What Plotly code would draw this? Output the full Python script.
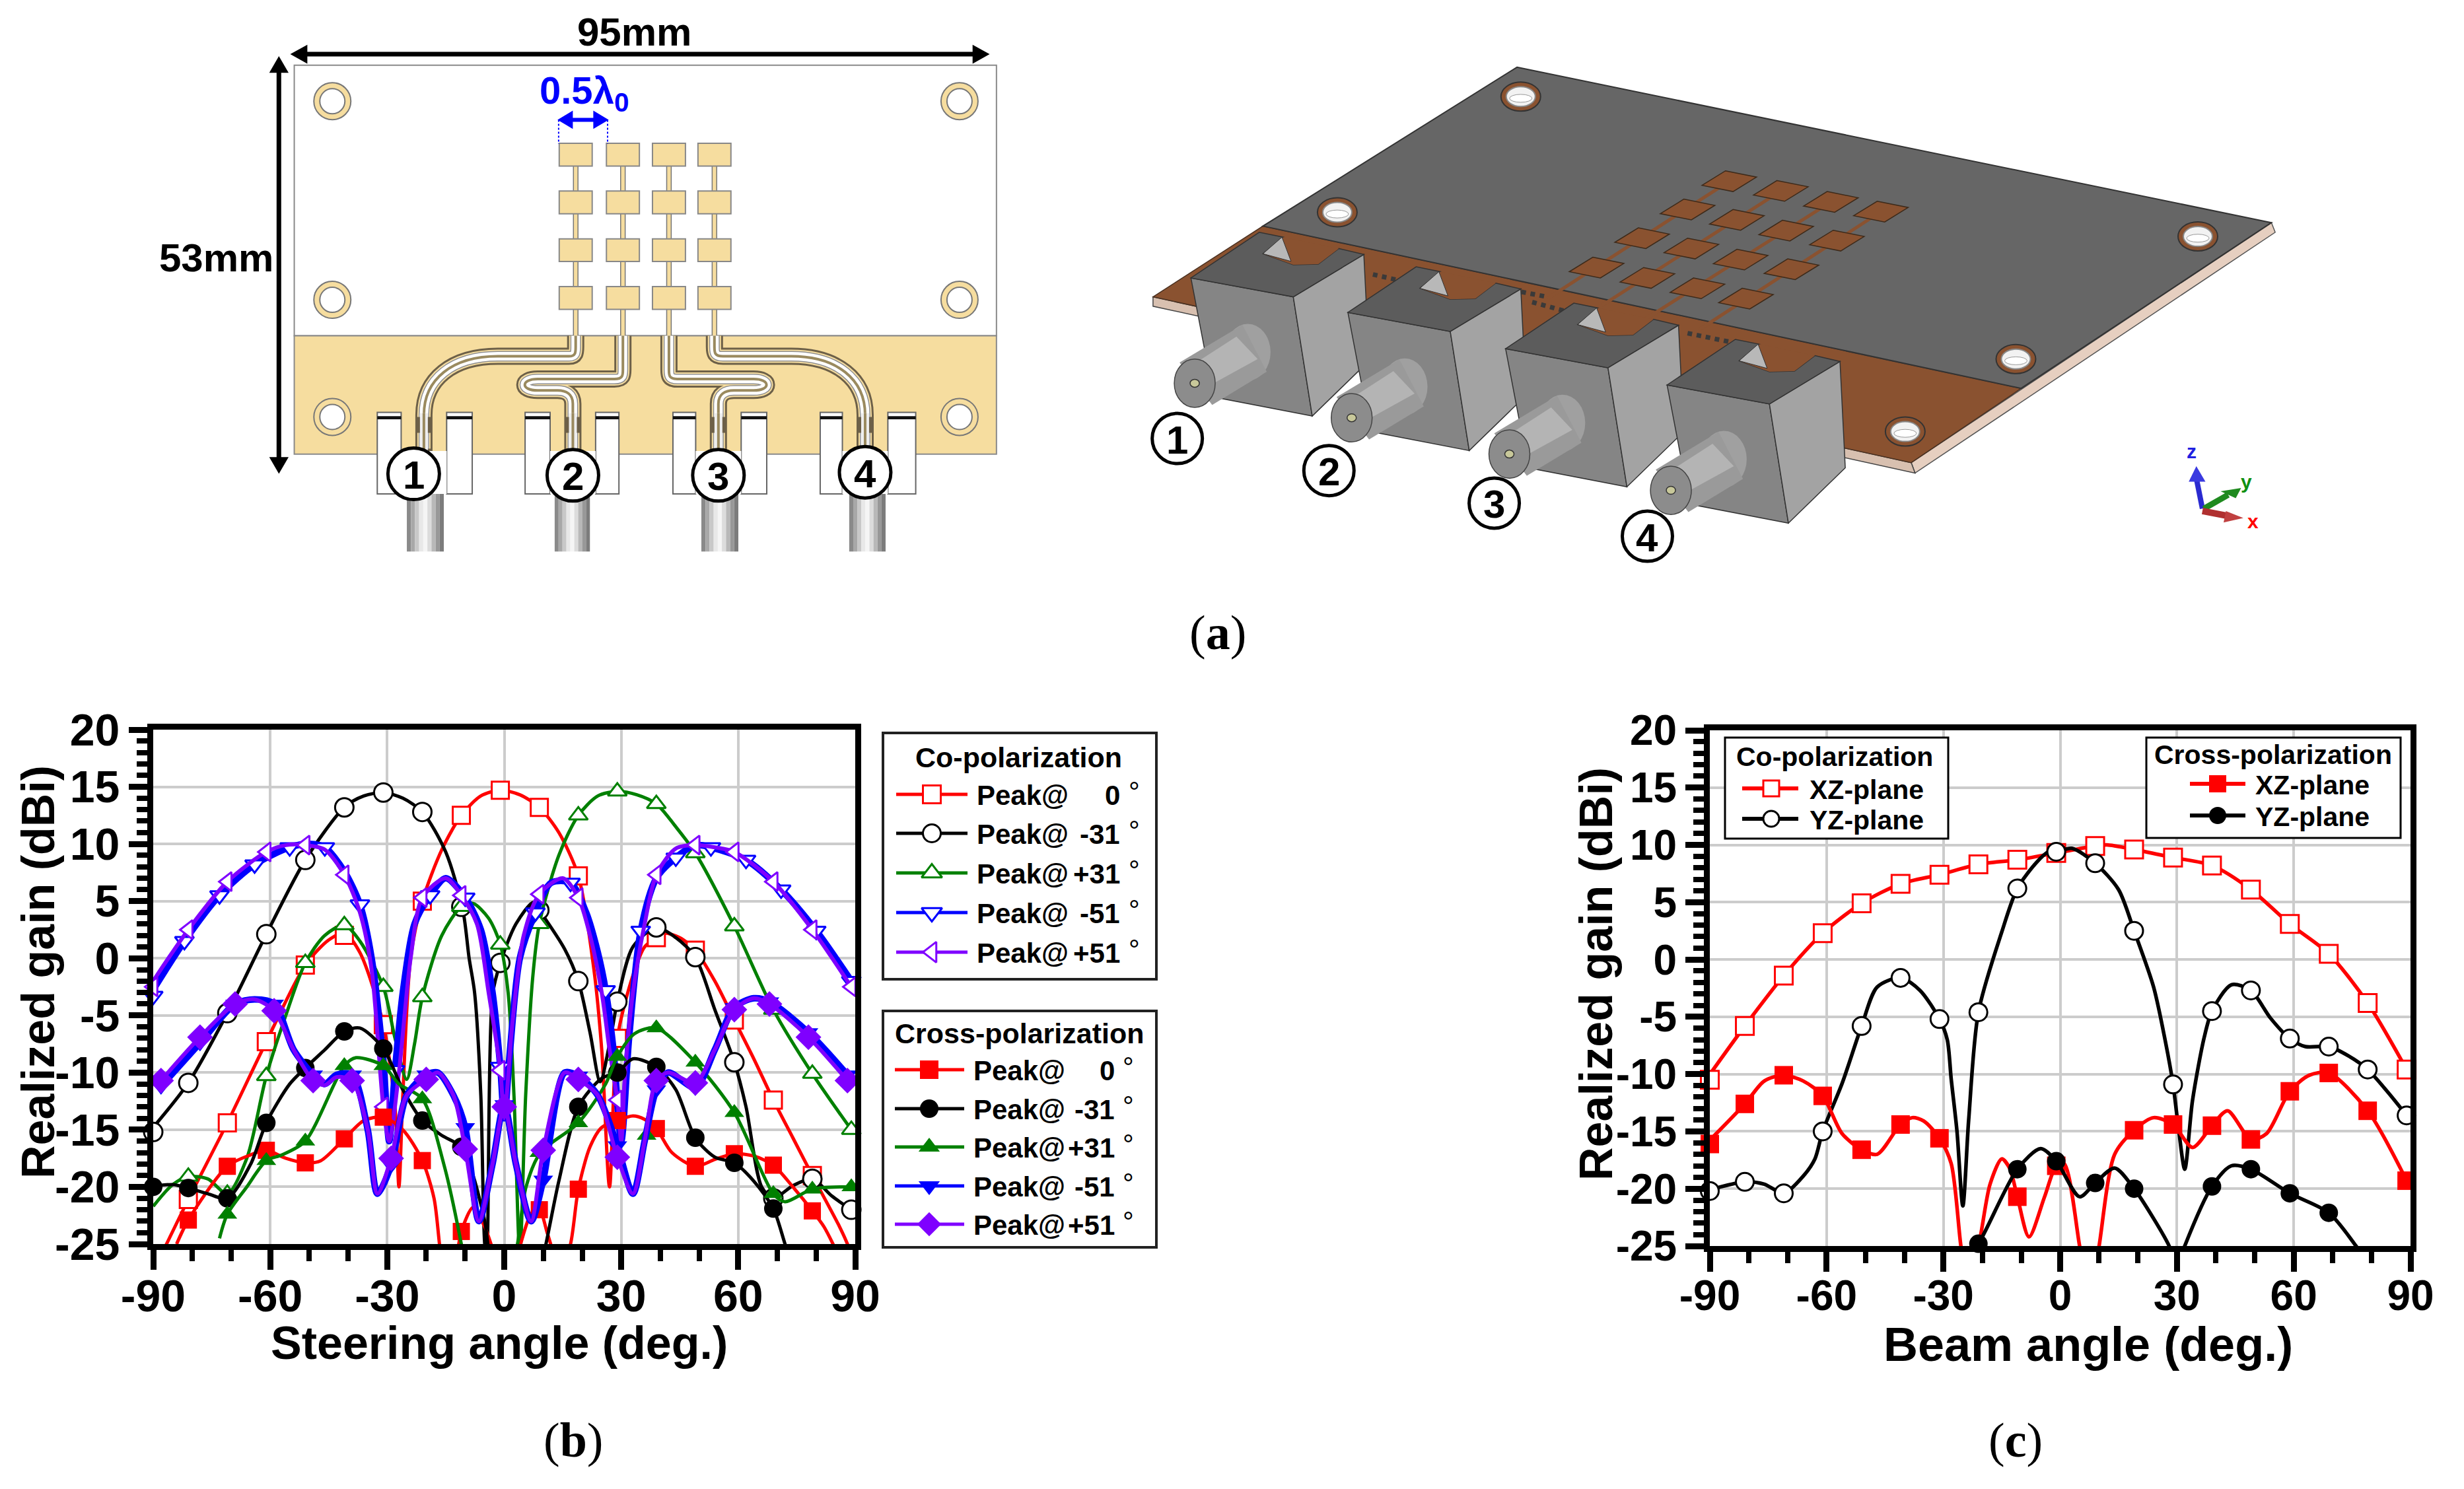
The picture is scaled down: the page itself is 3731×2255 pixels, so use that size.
import plotly.graph_objects as go

W, H = 3731, 2255

# ---------- shared marker angles ----------
ang10 = [-90, -81, -71, -61, -51, -41, -31, -21, -11, -1, 9, 19, 29, 39, 49, 59, 69, 79, 89]
ang9 = [-90, -82, -73, -64, -55, -46, -37, -28, -19, -10, -1, 8, 17, 26, 35, 44, 53, 62, 71, 80, 89]
ang98 = [-88, -78, -69, -59, -49, -39, -29, -20, -10, 0, 10, 19, 29, 39, 49, 59, 68, 78, 88]

# ---------- tick labels ----------
x_tick_vals = [-90, -60, -30, 0, 30, 60, 90]
x_tick_text = ["-90", "-60", "-30", "0", "30", "60", "90"]
y_tick_vals = [-25, -20, -15, -10, -5, 0, 5, 10, 15, 20]
y_tick_text = ["-25", "-20", "-15", "-10", "-5", "0", "5", "10", "15", "20"]

# ---------- panel (b): marker values ----------
b_co0_m = [None, -21.1, -14.4, -7.3, -0.6, 2.0, -5.8, 5.0, 12.5, 14.7, 13.2, 7.2, -7.0, 1.8, 0.7, -5.4, -12.4, -19.0, None]
b_co31n_m = [-15.2, -10.9, -4.8, 2.1, 8.6, 13.2, 14.5, 12.8, 4.5, -0.4, 4.2, -2.0, -3.8, 2.7, 0.1, -9.1, -21.0, -19.3, -22.0]
b_co31p_m = [None, -19.1, -20.6, -10.3, -0.4, 2.9, -2.5, -3.4, 4.5, 1.2, 3.0, 12.5, 14.6, 13.5, 9.2, 2.8, -4.5, -10.1, -15.0]
b_co51n_m = [-3.3, 1.5, 5.5, 8.2, 9.7, 9.7, 4.7, -9.8, 5.5, 5.3, -9.5, 4.0, 6.6, -2.8, 2.4, 8.8, 9.7, 8.6, 6.0, 2.4, -2.0]
b_co51p_m = [-2.5, 2.5, 6.7, 9.3, 9.9, 7.3, -13.0, 5.3, 5.5, -9.8, 5.6, 5.3, -12.4, 7.3, 9.9, 9.3, 6.7, 2.5, -2.5]
b_x0_m = [None, -22.9, -18.2, -16.8, -17.9, -15.8, -13.9, -17.7, -23.9, None, -22.0, -20.2, -14.2, -14.9, -18.2, -17.1, -18.1, -22.1, None]
b_x31n_m = [-20.0, -20.1, -21.0, -14.4, -9.6, -6.4, -7.9, -14.2, -16.5, None, None, -13.0, -10.0, -9.5, -15.7, -17.9, -21.9, None, None]
b_x31p_ang = [-71, -61, -51, -41, -31, -21, 9, 19, 29, 36.5, 39, 49, 59, 69, 79, 89]
b_x31p_m = [-22.4, -17.7, -16.0, -9.4, -9.4, -12.3, -17.0, -14.4, -8.6, -15.5, -6.1, -9.1, -13.5, -20.6, -20.2, -20.0]
b_x51n_m = [-11.2, -7.4, -4.0, -4.0, -10.2, -10.2, -18.1, -10.2, -14.8, -12.8, -19.4, -10.3, -16.4, -11.5, -11.3, -4.3, -3.8, -6.5, -10.2]
b_x51p_m = [-10.7, -6.9, -4.0, -4.6, -10.7, -10.7, -17.5, -10.6, -16.7, -13.0, -16.8, -10.6, -17.4, -10.7, -10.9, -4.5, -4.0, -6.9, -10.7]

# ---------- panel (b): curve samples ----------
b_co0_cx = [-88, -81, -71, -61, -51, -45, -41, -37, -31, -28, -27, -26, -24, -21, -16, -11, -6, -1, 4, 9, 14, 19, 23, 25, 27, 29, 33, 36, 39, 41, 45, 49, 54, 59, 64, 69, 74, 79, 86, 88, 90]
b_co0_cy = [-26, -21.1, -14.4, -7.3, -0.6, 1.6, 2.2, 0.5, -5.8, -13, -20, -12, 0, 5, 9.5, 12.5, 14.2, 14.7, 14.3, 13.2, 11, 7.2, -1, -8, -20, -7, -1.5, 1, 1.8, 2.2, 1.8, 0.7, -2, -5.4, -8.8, -12.4, -15.7, -19, -23.5, -25, -27]
b_co31n_cx = [-91, -81, -71, -61, -51, -41, -36, -31, -26, -21, -15, -10.6, -9, -7.6, -6, -5, -4.5, -3, -1, 3, 7.5, 9, 15.5, 19, 22, 24.6, 27, 29, 33, 39, 44, 49, 54, 59, 62, 66, 69, 74, 79, 84, 89]
b_co31n_cy = [-15.2, -10.9, -4.8, 2.1, 8.6, 13.2, 14.2, 14.5, 14, 12.8, 9.3, 4.2, 0, -3, -12, -25, -26, -3.2, -0.4, 3, 4.9, 4.2, 0.8, -2, -6.5, -10.8, -7.5, -3.8, 1, 2.7, 1.8, 0.1, -4.5, -9.1, -13, -20, -21, -19.9, -19.3, -20.8, -22]
b_co31p_cx = [-90, -85, -81, -76, -71, -66, -61, -56, -51, -46, -41, -37, -31, -28, -25, -23, -21, -16, -11, -8, -4, -1, 1, 2.5, 4, 5.5, 7.3, 9, 14, 19, 24, 29, 34, 39, 44, 49, 59, 69, 79, 89]
b_co31p_cy = [-21.7, -19.8, -19.1, -19.3, -20.6, -17.5, -10.3, -5, -0.4, 2, 2.9, 1.5, -2.5, -7, -10.6, -7.5, -3.4, 2, 4.5, 4.8, 3.5, 1.2, -3, -12, -26, -12, -1.7, 3, 9, 12.5, 14.2, 14.6, 14.3, 13.5, 11.5, 9.2, 2.8, -4.5, -10.1, -15]
b_co51n_cx = [-91, -82, -73, -64, -55, -50, -46, -41, -37, -34, -31, -29.5, -28, -26, -23, -19, -15, -10, -6, -3, -1, 0, 1.5, 4, 8, 12, 17, 21, 24, 26, 28, 30, 32, 35, 39, 44, 49, 53, 62, 71, 80, 89]
b_co51n_cy = [-3.3, 1.5, 5.5, 8.2, 9.7, 10, 9.7, 7.6, 4.7, 0, -9, -16, -9.8, -3, 3, 5.5, 7, 5.3, 2.5, -3, -9.5, -14, -8, 0, 4, 6.6, 6.6, 4, 0.5, -2.8, -8, -16, -7, 2.4, 7, 8.8, 9.9, 9.7, 8.6, 6, 2.4, -2]
b_co51p_cx = [-91, -81, -71, -61, -56, -51, -46, -41, -37, -34, -31, -29.5, -27, -24, -21, -15, -11, -7, -4, -1, 0, 2, 5, 9, 15, 19, 22, 25, 27, 29, 30, 31, 33, 36, 39, 44, 49, 54, 59, 69, 79, 89]
b_co51p_cy = [-2.5, 2.5, 6.7, 9.3, 9.9, 9.9, 9.5, 7.3, 4, -1, -13, -16, -10, 0, 5.3, 7, 5.5, 3, -3, -9.8, -14, -6, 2, 5.6, 7, 5.3, 2, -3, -8, -12.4, -16, -10, -3, 3, 7.3, 9.6, 9.9, 9.7, 9.3, 6.7, 2.5, -2.5]
b_x0_cx = [-84, -81, -71, -65, -61, -56, -51, -47, -41, -36, -31, -26, -21, -18, -16.6, -15.5, -13.5, -11, -8, -5, -3.4, -1, 2, 4.2, 7, 9, 11, 11.9, 14, 17, 19, 22, 25, 29, 33, 36, 39, 43, 49, 54, 59, 64, 69, 74, 79, 82, 84.3, 87]
b_x0_cy = [-25, -22.9, -18.2, -17.2, -16.8, -17.5, -17.9, -17.7, -15.8, -14.2, -13.9, -15, -17.7, -21, -25, -28, -28, -23.9, -21.8, -23.5, -25, -28, -28, -25, -22.3, -22, -24, -25, -28, -25, -20.2, -16.5, -14.8, -14.2, -13.8, -14.1, -14.9, -17, -18.2, -17.6, -17.1, -17.3, -18.1, -20, -22.1, -23.5, -25, -27]
b_x31n_cx = [-91, -85, -81, -76, -71, -65, -61, -55, -51, -46, -41, -37, -31, -26, -21, -16, -11, -8, -5, -4.2, -3, 8, 10.7, 14, 19, 25, 29, 33, 39, 44, 49, 54, 59, 64, 69, 72, 74]
b_x31n_cy = [-20, -19.8, -20.1, -20.6, -21, -18, -14.4, -11, -9.6, -8, -6.4, -6.1, -7.9, -11.5, -14.2, -15.5, -16.5, -19, -23, -25, -29, -29, -25, -19.5, -13, -10.5, -10, -8.8, -9.5, -11.5, -15.7, -17.4, -17.9, -19.5, -21.9, -25, -27]
b_x31p_cx = [-73, -71, -66, -61, -57, -51, -41, -38, -31, -27, -21, -15.5, -11, -9, 1, 3.4, 5.6, 9.3, 19, 26, 29, 33.4, 39, 49, 59, 69, 72, 79, 89]
b_x31p_cy = [-24.5, -22.4, -20, -17.7, -17.2, -16, -9.4, -8.7, -9.4, -11, -12.3, -18, -25, -29, -29, -25, -20, -17, -14.4, -11, -8.6, -6.6, -6.1, -9.1, -13.5, -20.6, -21.3, -20.2, -20]
b_x51n_cx = [-88, -78, -69, -64, -59, -54, -49, -46, -43, -39, -35, -32.5, -29, -25, -20, -17, -13, -10, -6.5, -3, 0, 3, 6.9, 10, 15.5, 19, 24, 29, 33, 36, 39, 42, 49, 54, 59, 64, 68, 78, 88]
b_x51n_cy = [-11.2, -7.4, -4, -3.6, -4, -8, -10.2, -11, -10.2, -10.2, -15, -20.6, -18.1, -12, -10.2, -10, -12, -14.8, -23, -18, -12.8, -18, -23, -19.4, -10, -10.3, -12, -16.4, -20.6, -16, -11.5, -10, -11.3, -8, -4.3, -3.5, -3.8, -6.5, -10.2]
b_x51p_cx = [-88, -78, -69, -64, -59, -54, -49, -46, -43, -39, -35, -32.5, -29, -25, -20, -17, -13, -10, -6.5, -3, 0, 3, 6.9, 10, 15.5, 19, 24, 29, 33, 36, 39, 42, 49, 54, 59, 64, 68, 78, 88]
b_x51p_cy = [-10.7, -6.9, -4, -3.6, -4.6, -8, -10.7, -11.1, -10.4, -10.7, -15, -20.6, -17.5, -12, -10.6, -10, -12, -16.7, -23, -18, -13, -18, -23, -16.8, -10, -10.6, -12, -17.4, -20.6, -16, -10.7, -10, -10.9, -8, -4.5, -3.5, -4, -6.9, -10.7]

# ---------- panel (c) ----------
c_co_xz_m = [-10.5, -5.8, -1.4, 2.3, 4.9, 6.6, 7.4, 8.3, 8.7, 9.3, 9.9, 9.6, 8.9, 8.2, 6.1, 3.1, 0.5, -3.8, -9.6]
c_co_yz_m = [-20.2, -19.4, -20.4, -15.0, -5.8, -1.6, -5.2, -4.6, 6.2, 9.4, 8.4, 2.5, -10.9, -4.5, -2.7, -6.9, -7.6, -9.6, -13.6]
c_x_xz_m = [-16.1, -12.6, -10.1, -11.9, -16.6, -14.4, -15.6, None, -20.7, -18.0, None, -14.9, -14.4, -14.5, -15.7, -11.5, -9.9, -13.2, -19.3]
c_x_yz_m = [None, None, None, None, None, None, None, -24.8, -18.3, -17.6, -19.5, -20.0, None, -19.8, -18.3, -20.4, -22.1, None, None]

c_co_xz_cx = [-91, -81, -71, -61, -51, -41, -31, -21, -11, -1, 9, 12, 19, 29, 39, 49, 59, 69, 79, 89]
c_co_xz_cy = [-10.5, -5.8, -1.4, 2.3, 4.9, 6.6, 7.4, 8.3, 8.7, 9.3, 9.9, 10, 9.6, 8.9, 8.2, 6.1, 3.1, 0.5, -3.8, -9.6]
c_co_yz_cx = [-91, -81, -76, -71, -66, -63, -61, -56, -51, -47, -41, -36, -31, -29, -28, -26.5, -25, -23.5, -21, -15, -11, -6, -3, -1, 3, 9, 15, 19, 24, 27, 29, 30.5, 32, 34, 37, 39, 44, 49, 54, 59, 63, 69, 74, 79, 84, 89]
c_co_yz_cy = [-20.2, -19.4, -19.6, -20.4, -18.9, -17.4, -15, -10.8, -5.8, -2.4, -1.6, -2.7, -5.2, -7, -10.4, -15, -21.5, -14, -4.6, 2.4, 6.2, 8.5, 9.4, 9.4, 9.7, 8.4, 6.1, 2.5, -2.4, -7.1, -10.9, -15, -18.3, -12.3, -6.8, -4.5, -2.2, -2.7, -5.1, -6.9, -7.6, -7.6, -8.4, -9.6, -11.5, -13.6]
c_x_xz_cx = [-91, -81, -76, -71, -66, -61, -56, -51, -47, -41, -38, -35, -31, -28, -25.5, -24, -21, -18, -15, -13, -11, -8, -4, -1, 1, 5, 7, 8, 10, 14, 19, 24, 29, 34, 39, 43, 49, 53, 59, 64, 69, 79, 89]
c_x_xz_cy = [-16.1, -12.6, -10.6, -10.1, -10.6, -11.9, -15.2, -16.6, -17, -14.4, -13.8, -14.1, -15.6, -17.8, -25, -28, -25, -19.6, -17.4, -18.2, -20.7, -24.2, -20.7, -18, -17.8, -25, -29, -29, -25, -17, -14.9, -13.8, -14.4, -16.4, -14.5, -13.2, -15.7, -15.2, -11.5, -10.1, -9.9, -13.2, -19.3]
c_x_yz_cx = [-24, -21, -11, -5, -1, 5, 9, 14, 19, 24, 28, 30, 32, 39, 44, 49, 59, 69, 76, 78]
c_x_yz_cy = [-26, -24.8, -18.3, -16.5, -17.6, -20.7, -19.5, -18.2, -20, -22.6, -25, -27, -25, -19.8, -18, -18.3, -20.4, -22.1, -25, -26]

# ---------- text ----------
y_label = "Realized gain (dBi)"
b_xlabel = "Steering angle (deg.)"
c_xlabel = "Beam angle (deg.)"
legend_angles = ["0", "-31", "+31", "-51", "+51"]

RED, BLACK, GREEN, BLUE, PURPLE = "#ff0000", "#000000", "#008000", "#0000ff", "#7f00ff"
FONT = "Liberation Sans"
TAN = "#f6dd9f"
CLEAR = "rgba(0,0,0,0)"

fig = go.Figure()


def curve(x, y, color, width, xa, ya):
    fig.add_trace(go.Scatter(x=x, y=y, mode="lines", xaxis=xa, yaxis=ya, showlegend=False,
                             line=dict(color=color, width=width, shape="spline", smoothing=0.8)))


def marks(x, y, color, symbol, size, xa, ya, hollow=False):
    fig.add_trace(go.Scatter(x=x, y=y, mode="markers", xaxis=xa, yaxis=ya, showlegend=False, cliponaxis=False,
                             marker=dict(symbol=symbol, size=size,
                                         color="white" if hollow else color,
                                         line=dict(color=color, width=3 if hollow else 0))))


b_series = [
    (b_co0_cx, b_co0_cy, RED, 5, ang10, b_co0_m, "square", 26, True),
    (b_co31n_cx, b_co31n_cy, BLACK, 5, ang10, b_co31n_m, "circle", 28, True),
    (b_co31p_cx, b_co31p_cy, GREEN, 5, ang10, b_co31p_m, "triangle-up", 25, True),
    (b_co51n_cx, b_co51n_cy, BLUE, 10, ang9, b_co51n_m, "triangle-down", 25, True),
    (b_co51p_cx, b_co51p_cy, PURPLE, 6, ang10, b_co51p_m, "triangle-left", 25, True),
    (b_x0_cx, b_x0_cy, RED, 5, ang10, b_x0_m, "square", 26, False),
    (b_x31n_cx, b_x31n_cy, BLACK, 5, ang10, b_x31n_m, "circle", 28, False),
    (b_x31p_cx, b_x31p_cy, GREEN, 5, b_x31p_ang, b_x31p_m, "triangle-up", 26, False),
    (b_x51n_cx, b_x51n_cy, BLUE, 10, ang98, b_x51n_m, "triangle-down", 26, False),
    (b_x51p_cx, b_x51p_cy, PURPLE, 6, ang98, b_x51p_m, "diamond", 30, False),
]
for cx, cy, col, w, mx, my, sym, size, hol in b_series:
    curve(cx, cy, col, w, "x", "y")
    marks(mx, my, col, sym, size, "x", "y", hol)

c_series = [
    (c_co_xz_cx, c_co_xz_cy, RED, ang10, c_co_xz_m, "square", 27, True),
    (c_co_yz_cx, c_co_yz_cy, BLACK, ang10, c_co_yz_m, "circle", 27, True),
    (c_x_xz_cx, c_x_xz_cy, RED, ang10, c_x_xz_m, "square", 28, False),
    (c_x_yz_cx, c_x_yz_cy, BLACK, ang10, c_x_yz_m, "circle", 28, False),
]
for cx, cy, col, mx, my, sym, size, hol in c_series:
    curve(cx, cy, col, 5.5, "x2", "y2")
    marks(mx, my, col, sym, size, "x2", "y2", hol)

# ---------- overlay helpers (page-pixel axes, for the drawings and legend boxes) ----------
S = []


def rect(x0, y0, x1, y1, fill, line=None, w=0):
    S.append(dict(type="rect", xref="x3", yref="y3", x0=x0, y0=y0, x1=x1, y1=y1, fillcolor=fill,
                  line=dict(color=line or fill, width=w)))


def ell(cx, cy, rx, ry, fill, line=None, w=0):
    S.append(dict(type="circle", xref="x3", yref="y3", x0=cx - rx, x1=cx + rx, y0=cy - ry, y1=cy + ry,
                  fillcolor=fill, line=dict(color=line or fill, width=w)))


def poly(pts, fill, line=None, w=0):
    p = "M " + " L ".join(f"{a:.1f} {b:.1f}" for a, b in pts) + " Z"
    S.append(dict(type="path", xref="x3", yref="y3", path=p, fillcolor=fill, line=dict(color=line or fill, width=w)))


def stroke(p, color, w, dash=None):
    S.append(dict(type="path", xref="x3", yref="y3", path=p, line=dict(color=color, width=w, dash=dash or "solid")))


A = []


def text(x, y, t, size, color="black", bold=True, anchor="center", family=FONT, va="middle", angle=0):
    A.append(dict(xref="x3", yref="y3", x=x, y=y, text=f"<b>{t}</b>" if bold else t, showarrow=False,
                  font=dict(family=family, size=size, color=color), xanchor=anchor, yanchor=va, textangle=angle))


# axis titles
text(58, 1472, y_label, 70, angle=-90)
text(2417, 1475, y_label, 70, angle=-90)
text(756, 2034, b_xlabel, 70)
text(3162, 2036, c_xlabel, 72)

# ---------- panel (a), left drawing ----------
LX = lambda z: 220 + z / 1.1615
LY = lambda z: z / 1.742


def lrect(a, b, c, d, fill, line=None, w=0):
    rect(LX(a), LY(b), LX(c), LY(d), fill, line, w)


def lpath(seq):
    out = []
    for cmd, *pts in seq:
        out.append(cmd + " " + " ".join(f"{LX(pts[i]):.1f} {LY(pts[i+1]):.1f}" for i in range(0, len(pts), 2)))
    return " ".join(out)


lrect(262, 172, 1497, 886, "white", "#8a8a8a", 2)
lrect(262, 886, 1497, 1198, TAN, "#8a8a8a", 2)

for zx in (329, 1432):
    for zy in (267, 791, 1100):
        ell(LX(zx), LY(zy), 28, 28, TAN, "#777", 2)
        ell(LX(zx), LY(zy), 19, 19, "white", "#777", 2)

col_x = [757, 840, 921, 1001]
row_y = [408, 534, 660, 786]
for cx in col_x:
    lrect(cx - 4, 408, cx + 4, 890, TAN, "#777", 1.5)
    for ry in row_y:
        lrect(cx - 29, ry - 30, cx + 29, ry + 30, TAN, "#888", 2)

feed_paths = [
    lpath([("M", 490, 1190), ("L", 490, 1095), ("C", 490, 1000, 540, 940, 620, 940), ("L", 745, 940), ("C", 757, 940, 757, 930, 757, 915), ("L", 757, 886)]),
    lpath([("M", 752, 1190), ("L", 752, 1065), ("C", 752, 1040, 740, 1030, 725, 1030), ("L", 690, 1030), ("C", 660, 1030, 660, 1000, 690, 1000), ("L", 825, 1000), ("C", 840, 1000, 840, 990, 840, 975), ("L", 840, 886)]),
    lpath([("M", 1008, 1190), ("L", 1008, 1065), ("C", 1008, 1040, 1020, 1030, 1035, 1030), ("L", 1070, 1030), ("C", 1100, 1030, 1100, 1000, 1070, 1000), ("L", 936, 1000), ("C", 921, 1000, 921, 990, 921, 975), ("L", 921, 886)]),
    lpath([("M", 1266, 1190), ("L", 1266, 1095), ("C", 1266, 1000, 1216, 940, 1136, 940), ("L", 1016, 940), ("C", 1001, 940, 1001, 930, 1001, 915), ("L", 1001, 886)]),
]
for p in feed_paths:
    stroke(p, "#6d6048", 26)
    stroke(p, TAN, 20)
    stroke(p, "#8f8f8f", 16)
    stroke(p, "white", 13)
    stroke(p, "#9a8a5f", 4)

block_x = [(408, 575), (668, 833), (928, 1093), (1187, 1355)]
coax_x = [(460, 525), (720, 782), (978, 1043), (1238, 1302)]
coax_tones = ["#8a8a8a", "#a8a8a8", "#c8c8c8", "#e8e8e8", "#f5f5f5", "#dcdcdc", "#b8b8b8", "#989898", "#7c7c7c"]
for (a, b), (ca, cb), fx in zip(block_x, coax_x, (490, 752, 1008, 1266)):
    step = (cb - ca) / len(coax_tones)
    for i, tone in enumerate(coax_tones):
        lrect(ca + i * step, 1300, ca + (i + 1) * step, 1455, tone)
    left = fx - 40
    right = fx + 40
    lrect(a, 1088, left, 1303, "white", "#666", 2)
    lrect(right, 1088, b, 1303, "white", "#666", 2)
    lrect(left, 1190, right, 1303, "white", "#666", 0)
    lrect(a, 1098, left, 1106, "#111")
    lrect(right, 1098, b, 1106, "#111")
    S.append(dict(type="line", xref="x3", yref="y3", x0=LX(fx), x1=LX(fx), y0=LY(1100), y1=LY(1190),
                  line=dict(color="#6d6048", width=24, dash="dot")))
    S.append(dict(type="line", xref="x3", yref="y3", x0=LX(fx), x1=LX(fx), y0=LY(1090), y1=LY(1190),
                  line=dict(color="#eeeeee", width=12)))
    S.append(dict(type="line", xref="x3", yref="y3", x0=LX(fx), x1=LX(fx), y0=LY(1090), y1=LY(1190),
                  line=dict(color="#9a8a5f", width=4)))

for n, (zx, zy) in enumerate([(472, 1250), (752, 1254), (1008, 1254), (1266, 1246)], 1):
    ell(LX(zx), LY(zy), 39, 39, "white", "black", 5)
    text(LX(zx), LY(zy) + 2, str(n), 60)

# dimension arrows
stroke(f"M {LX(270):.1f} {LY(143):.1f} L {LX(1470):.1f} {LY(143):.1f}", "black", 7)
poly([(LX(255), LY(143)), (LX(285), LY(118)), (LX(285), LY(168))], "black")
poly([(LX(1485), LY(143)), (LX(1455), LY(118)), (LX(1455), LY(168))], "black")
stroke(f"M {LX(235):.1f} {LY(175):.1f} L {LX(235):.1f} {LY(1220):.1f}", "black", 7)
poly([(LX(235), LY(148)), (LX(218), LY(192)), (LX(252), LY(192))], "black")
poly([(LX(235), LY(1250)), (LX(218), LY(1206)), (LX(252), LY(1206))], "black")
text(LX(860), LY(85), "95mm", 60)
text(LX(125), LY(680), "53mm", 60)

# half wavelength marker
stroke(f"M {LX(740):.1f} {LY(316):.1f} L {LX(800):.1f} {LY(316):.1f}", "#0000ff", 6)
poly([(LX(725), LY(316)), (LX(752), LY(292)), (LX(752), LY(340))], "#0000ff")
poly([(LX(815), LY(316)), (LX(788), LY(292)), (LX(788), LY(340))], "#0000ff")
stroke(f"M {LX(727):.1f} {LY(316):.1f} L {LX(727):.1f} {LY(380):.1f}", "#0000ff", 2, "dot")
stroke(f"M {LX(813):.1f} {LY(316):.1f} L {LX(813):.1f} {LY(380):.1f}", "#0000ff", 2, "dot")
text(LX(772), LY(245), "0.5λ<sub>0</sub>", 58, "#0000ff")

# ---------- panel (a), right drawing ----------
RX = lambda z: 1700 + z / 0.871
RY = lambda z: 60 + z / 1.912


def rp(pts):
    return [(RX(a), RY(b)) for a, b in pts]


GRAY_TOP, COPPER = "#666666", "#8a5230"
poly(rp([(1515, 530), (1520, 558), (1045, 1255), (1040, 1225)]), "#e6cfc0", "#555", 1.5)
poly(rp([(40, 745), (40, 772), (1045, 1255), (1040, 1225)]), "#d8c0b0", "#444", 1.5)
poly(rp([(40, 745), (185, 540), (1185, 1010), (1040, 1225)]), COPPER, "#4a3020", 1.5)
poly(rp([(520, 80), (1515, 530), (1185, 1010), (185, 540)]), GRAY_TOP, "#333", 2)

for a, b, c, d in [(430, 690, 560, 745), (540, 760, 590, 790), (745, 850, 900, 920), (330, 680, 380, 705)]:
    stroke(f"M {RX(a):.1f} {RY(b):.1f} L {RX(c):.1f} {RY(d):.1f}", "#3a3a3a", 7, "dot")

patch_centres = [
    (800, 410), (868, 438), (934, 470), (1000, 498),
    (745, 492), (810, 522), (875, 553), (942, 582),
    (685, 575), (750, 605), (815, 637), (882, 665),
    (625, 660), (692, 690), (758, 720), (822, 750),
]
feed_ends = [(560, 750), (632, 770), (660, 850), (760, 840)]
for i, (ex, ey) in enumerate(feed_ends):
    sx, sy = patch_centres[i]
    stroke(f"M {RX(sx):.1f} {RY(sy):.1f} L {RX(ex):.1f} {RY(ey):.1f}", COPPER, 5)
for cx, cy in patch_centres:
    poly(rp([(cx - 5, cy - 30), (cx + 36, cy - 12), (cx + 5, cy + 30), (cx - 36, cy + 12)]), COPPER, "#3d2a1a", 1.5)

for zx, zy in [(525, 165), (283, 500), (1418, 570), (1178, 925), (1032, 1135)]:
    ell(RX(zx), RY(zy), 30, 22, COPPER, "#333", 2)
    ell(RX(zx), RY(zy), 22, 15, "#f2f2f2", "#888", 2)
    ell(RX(zx), RY(zy + 5), 17, 6, "white", "#999", 1)

block_offsets = [(0, 0), (207, 100), (415, 205), (628, 310)]
for ox, oy in block_offsets:
    def o(pts):
        return rp([(a + ox, b + oy) for a, b in pts])
    poly(o([(90, 690), (225, 745), (250, 1090), (120, 1035)]), "#858585", "#333", 1.5)
    poly(o([(225, 745), (318, 622), (325, 930), (250, 1090)]), "#a3a3a3", "#333", 1.5)
    poly(o([(90, 690), (180, 558), (212, 572), (185, 620), (225, 652), (258, 650), (285, 605), (318, 622), (225, 745)]), "#5c5c5c", "#333", 1.5)
    poly(o([(212, 572), (285, 605), (258, 650), (225, 652), (185, 620)]), COPPER)
    poly(o([(210, 572), (222, 642), (185, 620)]), "#b8b8b8", "#333", 1)
    ell(RX(165 + ox), RY(905 + oy), 30 / 0.871, 82 / 1.912, "#a0a0a0")
    poly(o([(158, 826), (75, 935), (118, 1058), (190, 962)]), "#9a9a9a")
    poly(o([(150, 860), (90, 945), (112, 1005), (178, 925)]), "#b4b4b4")
    ell(RX(95 + ox), RY(995 + oy), 27 / 0.871, 70 / 1.912, "#8c8c8c", "#444", 1.5)
    ell(RX(95 + ox), RY(995 + oy), 7, 6, "#c8c89a", "#333", 1.5)

for n, (zx, zy) in enumerate([(72, 1155), (272, 1248), (490, 1342), (692, 1438)], 1):
    ell(RX(zx), RY(zy), 38, 38, "white", "black", 5)
    text(RX(zx), RY(zy) + 2, str(n), 60)

# axis triad
stroke(f"M {RX(1424):.1f} {RY(1358):.1f} L {RX(1416):.1f} {RY(1270):.1f}", "#2a2ad0", 8)
poly(rp([(1416, 1235), (1406, 1280), (1428, 1280)]), "#3a3ae0")
stroke(f"M {RX(1426):.1f} {RY(1358):.1f} L {RX(1458):.1f} {RY(1318):.1f}", "#1f8a1f", 9)
poly(rp([(1475, 1298), (1448, 1308), (1468, 1328)]), "#1f8a1f")
stroke(f"M {RX(1424):.1f} {RY(1365):.1f} L {RX(1460):.1f} {RY(1380):.1f}", "#b03030", 10)
poly(rp([(1478, 1385), (1455, 1365), (1452, 1398)]), "#c04040")
text(RX(1410), RY(1192), "z", 30, "#2020e0")
text(RX(1482), RY(1280), "y", 30, "#109010")
text(RX(1491), RY(1395), "x", 30, "#ff0000")

# panel tags
text(1844, 958, "(<b>a</b>)", 74, bold=False, family="Liberation Serif")
text(868, 2181, "(<b>b</b>)", 74, bold=False, family="Liberation Serif")
text(3052, 2181, "(<b>c</b>)", 74, bold=False, family="Liberation Serif")


# ---------- legend boxes ----------
def sample(x0, x1, xm, y, color, symbol, size, hollow, lw=5):
    fig.add_trace(go.Scatter(x=[x0, x1], y=[y, y], mode="lines", xaxis="x3", yaxis="y3", showlegend=False,
                             line=dict(color=color, width=lw)))
    fig.add_trace(go.Scatter(x=[xm], y=[y], mode="markers", xaxis="x3", yaxis="y3", showlegend=False,
                             marker=dict(symbol=symbol, size=size, color="white" if hollow else color,
                                         line=dict(color=color, width=3 if hollow else 0))))


rect(1337, 1110, 1751, 1483, CLEAR, "#222", 4)
rect(1337, 1531, 1751, 1889, CLEAR, "#222", 4)
text(1542, 1147, "Co-polarization", 43)
text(1544, 1565, "Cross-polarization", 43)
leg_cols = [RED, BLACK, GREEN, BLUE, PURPLE]
co_syms = ["square", "circle", "triangle-up", "triangle-down", "triangle-left"]
x_syms = ["square", "circle", "triangle-up", "triangle-down", "diamond"]
for yy, col, sym, ang in zip([1203, 1262, 1322, 1382, 1442], leg_cols, co_syms, legend_angles):
    sample(1357, 1465, 1411, yy, col, sym, 27, True)
    text(1477, yy + 1, "Peak@", 42, anchor="left")
    text(1698, yy + 1, ang, 42, anchor="right")
    text(1717, yy - 4, "°", 42, bold=False)
for yy, col, sym, ang in zip([1620, 1679, 1737, 1796, 1854], leg_cols, x_syms, legend_angles):
    sample(1355, 1460, 1407, yy, col, sym, 28, False)
    text(1472, yy + 1, "Peak@", 42, anchor="left")
    text(1690, yy + 1, ang, 42, anchor="right")
    text(1708, yy - 4, "°", 42, bold=False)

# the two boxes of panel (c) sit over the plot area, so they keep a white fill
LEGEND_C_BG = [(2612, 1117, 2950, 1270), (3250, 1117, 3635, 1269)]
for a, b, c, d in LEGEND_C_BG:
    S.append(dict(type="rect", xref="x3", yref="y3", x0=a, y0=b, x1=c, y1=d, fillcolor="white",
                  line=dict(color="black", width=3)))
text(2778, 1146, "Co-polarization", 41)
text(3442, 1143, "Cross-polarization", 41)
for yy, col, sym, lab in [(1194, RED, "square", "XZ-plane"), (1240, BLACK, "circle", "YZ-plane")]:
    text(2738, yy + 2, lab, 41, anchor="left")
for yy, col, sym, lab in [(1187, RED, "square", "XZ-plane"), (1235, BLACK, "circle", "YZ-plane")]:
    text(3413, yy + 2, lab, 41, anchor="left")


def shape_line(x0, x1, y, color, w=6):
    S.append(dict(type="line", xref="x3", yref="y3", x0=x0, x1=x1, y0=y, y1=y, line=dict(color=color, width=w)))


# samples of panel (c) go above its white boxes, so they are drawn as shapes
shape_line(2638, 2723, 1194, RED)
rect(2670, 1182, 2694, 1206, "white", RED, 3)
shape_line(2638, 2723, 1240, BLACK)
ell(2682, 1240, 12, 12, "white", BLACK, 3)
shape_line(3316, 3400, 1187, RED)
rect(3345, 1174, 3371, 1200, RED)
shape_line(3316, 3400, 1235, BLACK)
ell(3358, 1235, 13, 13, BLACK)


# ---------- axes ----------
def xaxis(x0, x1, size):
    return dict(domain=[x0 / W, x1 / W], range=[-90, 90], tickmode="array", tickvals=x_tick_vals, ticktext=x_tick_text,
                showgrid=True, gridcolor="#cccccc", gridwidth=4, zeroline=False, showline=True, mirror=True,
                linecolor="black", linewidth=9, ticks="outside", ticklen=30, tickwidth=9, tickcolor="black",
                minor=dict(dtick=10, tick0=-90, ticks="outside", ticklen=17, tickwidth=8, tickcolor="black", showgrid=False),
                tickfont=dict(family=FONT, size=size, color="black", weight="bold"), ticklabelstandoff=-19,
                automargin=False)


def yaxis(y0, y1, size):
    return dict(domain=[1 - y1 / H, 1 - y0 / H], range=[-25, 20], tickmode="array", tickvals=y_tick_vals, ticktext=y_tick_text,
                showgrid=True, gridcolor="#cccccc", gridwidth=4, zeroline=False, showline=True, mirror=True,
                linecolor="black", linewidth=9, ticks="outside", ticklen=28, tickwidth=9, tickcolor="black",
                minor=dict(dtick=1, tick0=-25, ticks="outside", ticklen=16, tickwidth=8, tickcolor="black", showgrid=False),
                tickfont=dict(family=FONT, size=size, color="black", weight="bold"),
                automargin=False)


fig.update_layout(
    width=W, height=H, autosize=False, showlegend=False, margin=dict(l=0, r=0, t=0, b=0, pad=0),
    paper_bgcolor="white", plot_bgcolor=CLEAR,
    xaxis=xaxis(232, 1295, 68), yaxis=yaxis(1105, 1884, 68),
    xaxis2=xaxis(2589, 3650, 64), yaxis2=yaxis(1106, 1887, 64),
    xaxis3=dict(domain=[0, 1], range=[0, W], visible=False, fixedrange=True),
    yaxis3=dict(domain=[0, 1], range=[H, 0], visible=False, fixedrange=True),
    shapes=S, annotations=A,
)
fig.layout.yaxis2.anchor = "x2"
fig.layout.xaxis2.anchor = "y2"
fig.layout.yaxis3.anchor = "x3"
fig.layout.xaxis3.anchor = "y3"

fig.write_html("out.html", post_script="document.body.style.margin='0';", config=dict(displayModeBar=False))
